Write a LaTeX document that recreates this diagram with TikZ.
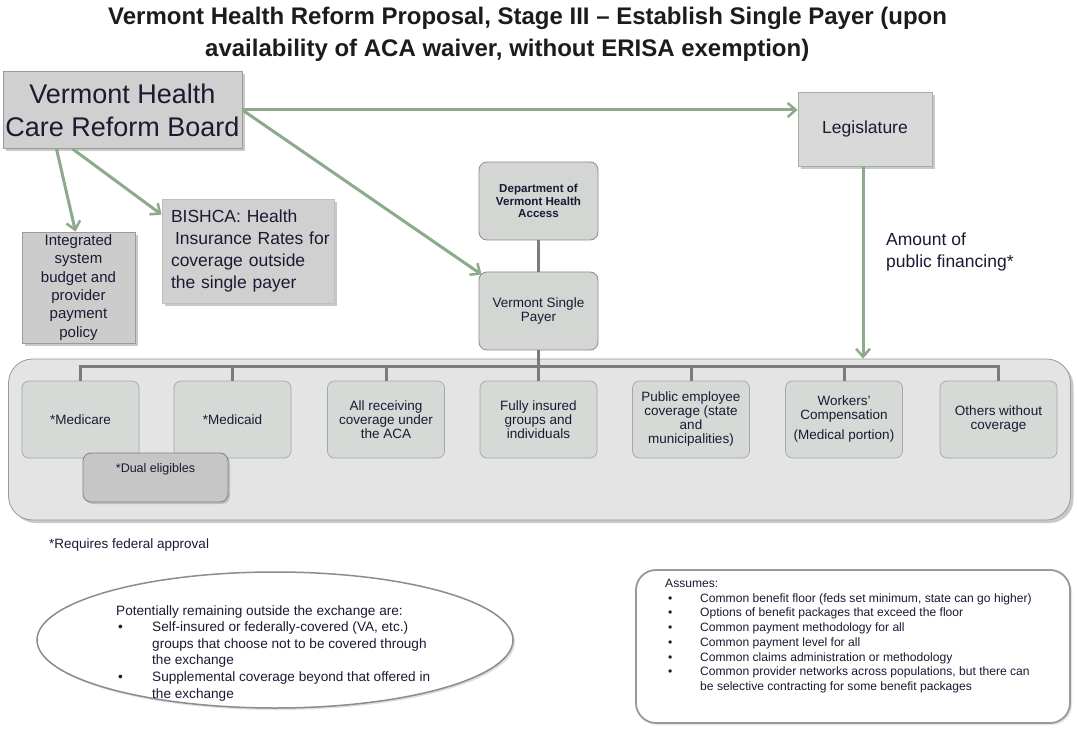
\documentclass[tikz,border=0pt]{standalone}
\usepackage{fontspec}
\setmainfont{Liberation Sans}
\usetikzlibrary{arrows.meta,shadows,shapes.geometric}
\definecolor{txt}{HTML}{1A1A33}
\definecolor{ttl}{HTML}{1C1C1C}
\definecolor{arr}{HTML}{8DAA8D}
\definecolor{tree}{HTML}{7B7B7B}
\definecolor{sqfill}{HTML}{D0D0D0}
\definecolor{rdfill}{HTML}{D4D6D4}
\definecolor{chfill}{HTML}{D6DAD6}
\definecolor{dualfill}{HTML}{C6C6C6}
\definecolor{contfill}{HTML}{E4E4E4}
\definecolor{bord}{HTML}{9A9A9A}
\definecolor{gbord}{HTML}{9DB39D}
\tikzset{
  shad/.style={drop shadow={shadow xshift=3pt,shadow yshift=-3pt,fill=black!35,opacity=0.6}},
  sqbox/.style={rectangle,draw=bord,line width=0.8pt,fill=sqfill,inner sep=0pt,align=center,text=txt,shad},
  rdbox/.style={rectangle,rounded corners=8pt,draw=black!45,line width=0.8pt,fill=rdfill,inner sep=0pt,align=center,text=txt},
  child/.style={rectangle,rounded corners=7pt,draw=black!35,line width=0.7pt,fill=chfill,inner sep=0pt,align=center,text=txt,
     minimum width=117pt,minimum height=77pt,font=\fontsize{13.5}{14}\selectfont},
  arrowline/.style={draw=arr,line width=3pt,-{Straight Barb[length=8pt,width=14pt,line width=2.5pt]}},
  treeline/.style={draw=tree,line width=3pt},
  plain/.style={inner sep=0pt,text=txt,align=left}
}
\begin{document}
\begin{tikzpicture}[x=1pt,y=-1pt]
\useasboundingbox (0,0) rectangle (1077,730);
\fill[white] (0,0) rectangle (1077,730);

% title
\node[inner sep=0pt,anchor=base west,text=ttl,font=\bfseries\fontsize{24}{30}\selectfont] (title1) at (108,25)
  {Vermont Health Reform Proposal, Stage III – Establish Single Payer (upon};
\node[inner sep=0pt,anchor=base west,text=ttl,font=\bfseries\fontsize{24}{30}\selectfont] (title2) at (205,57)
  {availability of ACA waiver, without ERISA exemption)};

% top boxes
\node[sqbox,minimum width=239pt,minimum height=77pt,font=\fontsize{27}{33}\selectfont] (board) at (122.5,110)
  {Vermont Health\\Care Reform Board};
\node[sqbox,draw=gbord,fill=black!15,minimum width=134pt,minimum height=74pt,font=\fontsize{17.5}{20}\selectfont] (legis) at (865,129)
  {Legislature};
\node[sqbox,minimum width=113pt,minimum height=111pt,font=\fontsize{15}{18.4}\selectfont,fill=black!20] (integ) at (78.5,287.5)
  {Integrated\\system\\budget and\\provider\\payment\\policy};
\node[sqbox,draw=black!25,minimum width=172pt,minimum height=104pt,text width=162pt,align=left,font=\fontsize{17.5}{22}\selectfont] (bishca) at (248,251)
  {\mbox{\hspace*{4pt}BISHCA: Health}\\\mbox{\hspace*{8pt}Insurance Rates for}\\\mbox{\hspace*{4pt}coverage outside}\\\mbox{\hspace*{4pt}the single payer}};

\node[rdbox,minimum width=119pt,minimum height=78pt,font=\bfseries\fontsize{11.6}{12.8}\selectfont] (dept) at (538.5,201)
  {Department of\\Vermont Health\\Access};
\node[rdbox,minimum width=119pt,minimum height=78pt,font=\fontsize{13.5}{14}\selectfont] (vsp) at (538.5,311)
  {Vermont Single\\Payer};

% container
\node[rectangle,rounded corners=24pt,draw=black!40,line width=0.8pt,fill=contfill,
      minimum width=1062pt,minimum height=161pt,inner sep=0pt,shad] (cont) at (539.5,439.5) {};

% tree
\coordinate (bar) at (538.5,366);
\draw[treeline] (dept.south) -- (vsp.north);
\draw[treeline] (vsp.south) -- (bar);

\node[child] (c1) at (80.5,419.5) {*Medicare};
\node[child] (c2) at (232.5,419.5) {*Medicaid};
\node[child] (c3) at (386,419.5) {All receiving\\coverage under\\the ACA};
\node[child] (c4) at (538.5,419.5) {Fully insured\\groups and\\individuals};
\node[child] (c5) at (691,419.5) {Public employee\\coverage (state\\and\\municipalities)};
\node[child] (c6) at (844,419.5) {Workers’\\Compensation\\[6pt](Medical portion)};
\node[child] (c7) at (998.5,419.5) {Others without\\coverage};

\draw[treeline] (c1.north) |- (bar) -| (c7.north);
\foreach \c in {c2,c3,c4,c5,c6}{\draw[treeline] (\c.north) -- (\c.north |- bar);}

\node[rectangle,rounded corners=8pt,draw=black!50,line width=0.8pt,fill=dualfill,minimum width=145pt,minimum height=49pt,
      inner sep=0pt,drop shadow={shadow xshift=2pt,shadow yshift=-2pt,fill=black!40}] (dual) at (155.5,477.5) {};
\node[plain,anchor=center,font=\fontsize{12.5}{14}\selectfont] (dualtxt) at ([yshift=-17pt]dual.north) {*Dual eligibles};

% arrows
\draw[arrowline] (board.east) -- (board.east -| legis.west);
\draw[arrowline] (board.east) -- ([xshift=3pt,yshift=-3pt]vsp.north west);
\draw[arrowline] ([xshift=-66pt]board.south) -- ([xshift=-3pt]integ.north);
\draw[arrowline] ([xshift=-50pt]board.south) -- ([yshift=-16pt]bishca.north west);
\draw[arrowline] ([xshift=-2pt]legis.south) -- ([xshift=-2pt]legis.south |- cont.north);

% labels
\node[plain,anchor=north west,font=\fontsize{17.5}{21.5}\selectfont] (amount) at (886,233)
  {Amount of\\public financing*};
\node[plain,anchor=base west,font=\fontsize{13.5}{16}\selectfont] (req) at (49,548)
  {*Requires federal approval};

% ellipse
\node[ellipse,draw=black!45,line width=1.5pt,fill=white,minimum width=476pt,minimum height=136pt,inner sep=0pt,
      drop shadow={shadow xshift=2pt,shadow yshift=-2pt,fill=black!25}] (ell) at (275,640) {};
\node[plain,anchor=north west,font=\fontsize{13.6}{16.6}\selectfont] (elltext) at (116,605)
  {Potentially remaining outside the exchange are:\\
   \makebox[36pt][l]{\hspace*{2pt}•}Self-insured or federally-covered (VA, etc.)\\
   \hspace*{36pt}groups that choose not to be covered through\\
   \hspace*{36pt}the exchange\\
   \makebox[36pt][l]{\hspace*{2pt}•}Supplemental coverage beyond that offered in\\
   \hspace*{36pt}the exchange};

% assumes box
\node[rectangle,rounded corners=20pt,draw=black!40,line width=1.8pt,fill=white,minimum width=434pt,minimum height=153pt,
      inner sep=0pt,drop shadow={shadow xshift=2pt,shadow yshift=-2pt,fill=black!20}] (assume) at (853,646.5) {};
\node[plain,anchor=north west,font=\fontsize{12.1}{14.7}\selectfont] (assumetext) at (665,579)
  {Assumes:\\
   \makebox[35pt][l]{\hspace*{3pt}•}Common benefit floor (feds set minimum, state can go higher)\\
   \makebox[35pt][l]{\hspace*{3pt}•}Options of benefit packages that exceed the floor\\
   \makebox[35pt][l]{\hspace*{3pt}•}Common payment methodology for all\\
   \makebox[35pt][l]{\hspace*{3pt}•}Common payment level for all\\
   \makebox[35pt][l]{\hspace*{3pt}•}Common claims administration or methodology\\
   \makebox[35pt][l]{\hspace*{3pt}•}Common provider networks across populations, but there can\\
   \hspace*{35pt}be selective contracting for some benefit packages};
\end{tikzpicture}
\end{document}
